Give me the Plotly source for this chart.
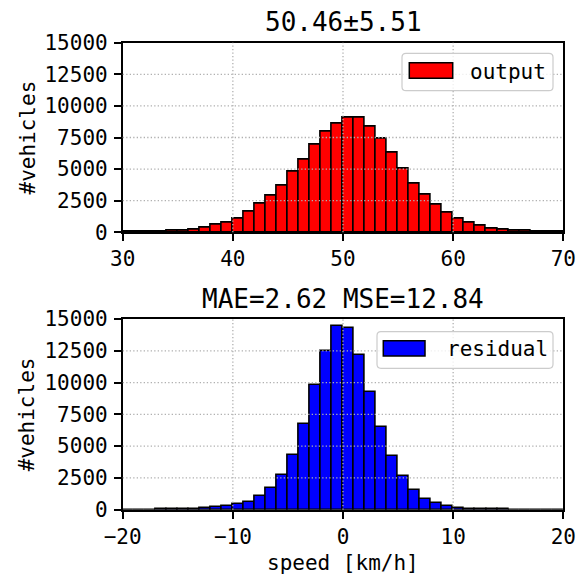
import plotly.graph_objects as go

# ---------------- data ----------------
output_bin_left = list(range(30, 70))
output_counts = [10, 20, 30, 80, 120, 160, 240, 370, 580, 770,
                 1110, 1640, 2250, 2910, 3700, 4790, 5720, 6930, 7990, 8570,
                 9100, 9050, 8390, 7380, 6270, 5000, 3840, 2990, 2200, 1560,
                 1060, 770, 500, 320, 185, 130, 100, 80, 50, 30]

residual_bin_left = list(range(-20, 20))
residual_counts = [0, 5, 10, 20, 30, 50, 80, 130, 210, 290,
                   480, 630, 1110, 1690, 2700, 4330, 6710, 9780, 12500, 14460,
                   14300, 12130, 9220, 6530, 4250, 2620, 1530, 870, 530, 290,
                   160, 80, 50, 30, 20, 10, 5, 3, 2, 0]

top_title = "50.46±5.51"
bottom_title = "MAE=2.62 MSE=12.84"
y_label = "#vehicles"
x_label = "speed [km/h]"
top_xticks = [30, 40, 50, 60, 70]
top_xticklabels = ["30", "40", "50", "60", "70"]
bottom_xticks = [-20, -10, 0, 10, 20]
bottom_xticklabels = ["\u221220", "\u221210", "0", "10", "20"]
yticks = [0, 2500, 5000, 7500, 10000, 12500, 15000]
yticklabels = ["0", "2500", "5000", "7500", "10000", "12500", "15000"]

# ---------------- layout helpers ----------------
W, H = 585, 578
FONT = "DejaVu Sans Mono"
TICK_SIZE = 21
TITLE_SIZE = 26


def px(x):
    return x / W


def py(y):
    return 1 - y / H


AX_L, AX_R = 122.7, 563.3
TOP_T, TOP_B = 42.7, 232.3
BOT_T, BOT_B = 319.0, 509.7

fig = go.Figure()

fig.add_trace(go.Bar(
    x=[b + 0.5 for b in output_bin_left], y=output_counts, width=1,
    marker=dict(color="#ff0000", line=dict(color="black", width=1.6)),
    xaxis="x", yaxis="y", showlegend=False, name="output"))

fig.add_trace(go.Bar(
    x=[b + 0.5 for b in residual_bin_left], y=residual_counts, width=1,
    marker=dict(color="#0000ff", line=dict(color="black", width=1.6)),
    xaxis="x2", yaxis="y2", showlegend=False, name="residual"))

axis_common = dict(
    showline=True, mirror=True, linecolor="black", linewidth=1.6,
    ticks="outside", ticklen=7, tickwidth=1.6, tickcolor="black",
    showgrid=False, zeroline=False, automargin=False,
    tickfont=dict(family=FONT, size=TICK_SIZE, color="black"),
)

fig.update_layout(
    width=W, height=H,
    margin=dict(l=0, r=0, t=0, b=0),
    paper_bgcolor="white", plot_bgcolor="white",
    bargap=0,
    xaxis=dict(domain=[px(AX_L), px(AX_R)], anchor="y", range=[30, 70],
               tickvals=top_xticks, ticktext=top_xticklabels, **axis_common),
    yaxis=dict(domain=[py(TOP_B), py(TOP_T)], anchor="x", range=[0, 15000],
               tickvals=yticks, ticktext=yticklabels, ticklabelstandoff=2, **axis_common),
    xaxis2=dict(domain=[px(AX_L), px(AX_R)], anchor="y2", range=[-20, 20],
                tickvals=bottom_xticks, ticktext=bottom_xticklabels, **axis_common),
    yaxis2=dict(domain=[py(BOT_B), py(BOT_T)], anchor="x2", range=[0, 15000],
                tickvals=yticks, ticktext=yticklabels, ticklabelstandoff=2, **axis_common),
)

shapes = []
# grid lines drawn above bars (as in the reference)
grid_style = dict(color="#b0b0b0", width=1.3, dash="1.3px,2.2px")
for xr, yr, xt in (("x", "y", top_xticks), ("x2", "y2", bottom_xticks)):
    for t in xt[1:-1]:
        shapes.append(dict(type="line", xref=xr, yref=yr + " domain",
                           x0=t, x1=t, y0=0, y1=1, line=grid_style, layer="above"))
    for t in yticks[1:-1]:
        shapes.append(dict(type="line", xref=xr + " domain", yref=yr,
                           x0=0, x1=1, y0=t, y1=t, line=grid_style, layer="above"))


def rounded_box(x0, y0, x1, y1, r=4):
    # pixel coords -> paper path with rounded corners
    X = lambda v: f"{px(v):.6f}"
    Y = lambda v: f"{py(v):.6f}"
    return (f"M {X(x0 + r)},{Y(y0)} L {X(x1 - r)},{Y(y0)} Q {X(x1)},{Y(y0)} {X(x1)},{Y(y0 + r)} "
            f"L {X(x1)},{Y(y1 - r)} Q {X(x1)},{Y(y1)} {X(x1 - r)},{Y(y1)} "
            f"L {X(x0 + r)},{Y(y1)} Q {X(x0)},{Y(y1)} {X(x0)},{Y(y1 - r)} "
            f"L {X(x0)},{Y(y0 + r)} Q {X(x0)},{Y(y0)} {X(x0 + r)},{Y(y0)} Z")


legends = [
    # box, patch, text pos, label, color
    ((402, 53.3, 553, 90.7), (409.3, 62.7, 452.7, 78.3), (467.5, 71.7), "output", "#ff0000"),
    ((377, 331.7, 553, 368.3), (383.3, 340.7, 425, 356), (444.5, 349.3), "residual", "#0000ff"),
]
annotations = []
for box, patch, tpos, label, col in legends:
    shapes.append(dict(type="path", xref="paper", yref="paper", path=rounded_box(*box),
                       fillcolor="rgba(255,255,255,0.8)", line=dict(color="#cccccc", width=1.2),
                       layer="above"))
    shapes.append(dict(type="rect", xref="paper", yref="paper",
                       x0=px(patch[0]), x1=px(patch[2]), y0=py(patch[3]), y1=py(patch[1]),
                       fillcolor=col, line=dict(color="black", width=1.5), layer="above"))
    annotations.append(dict(xref="paper", yref="paper", x=px(tpos[0]), y=py(tpos[1]),
                            xanchor="left", yanchor="middle", showarrow=False, text=label,
                            font=dict(family=FONT, size=TICK_SIZE, color="black")))

cx = px((AX_L + AX_R) / 2)
annotations += [
    dict(xref="paper", yref="paper", x=cx, y=py(22), xanchor="center", yanchor="middle",
         showarrow=False, text=top_title, font=dict(family=FONT, size=TITLE_SIZE, color="black")),
    dict(xref="paper", yref="paper", x=cx, y=py(299), xanchor="center", yanchor="middle",
         showarrow=False, text=bottom_title, font=dict(family=FONT, size=TITLE_SIZE, color="black")),
    dict(xref="paper", yref="paper", x=px(27), y=py((TOP_T + TOP_B) / 2), xanchor="center",
         yanchor="middle", showarrow=False, text=y_label, textangle=-90,
         font=dict(family=FONT, size=TICK_SIZE, color="black")),
    dict(xref="paper", yref="paper", x=px(27), y=py((BOT_T + BOT_B) / 2), xanchor="center",
         yanchor="middle", showarrow=False, text=y_label, textangle=-90,
         font=dict(family=FONT, size=TICK_SIZE, color="black")),
    dict(xref="paper", yref="paper", x=cx, y=py(563), xanchor="center", yanchor="middle",
         showarrow=False, text=x_label, font=dict(family=FONT, size=TICK_SIZE, color="black")),
]

fig.update_layout(shapes=shapes, annotations=annotations)
fig.write_html("out.html")
